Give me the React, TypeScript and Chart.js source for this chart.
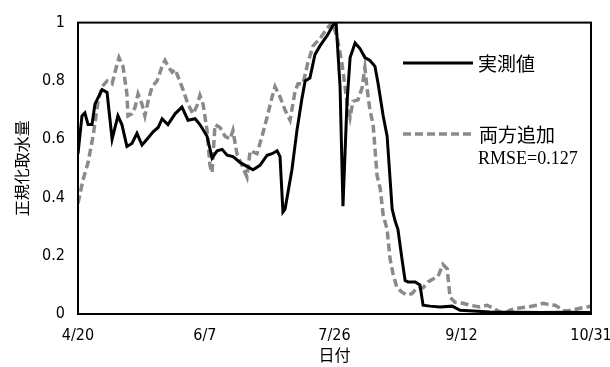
import React, { useEffect, useRef } from "react";
import { Chart, registerables } from "chart.js";

Chart.register(...registerables);

// x axis: day offset from 4/20
const tickDays = [0, 48, 97, 145, 194];
const tickLabels = ["4/20", "6/7", "7/26", "9/12", "10/31"];
const yTicks = [0, 0.2, 0.4, 0.6, 0.8, 1];

const measLabel = "実測値";
const simLabel = "両方追加";
const rmseText = "RMSE=0.127";

const measDays = [0,1.5,2.6,3.8,5.3,6.4,9.1,11,11.7,12.9,15.1,16.6,18.5,20.4,22.3,24.2,26.1,28.4,30.3,31.8,34,36.7,39.3,41.6,44.3,46.1,48.8,50.7,52.6,54.5,56.4,58.6,61.3,63.2,66.2,68.8,71.5,73.4,75.3,76.4,77.5,78.3,80.9,82.8,84.7,85.9,87.7,89.6,91.5,94.2,96.4,97.6,99.1,100.2,101.7,102.9,104.8,106.7,108.5,110.4,112.3,113.5,115.4,116.9,118.8,119.9,121,122.5,123.7,124.8,127.5,129.3,130.5,133.1,136.9,141.5,144.5,149.4,155.8,165,175,185,194];
const measVals = [0.55,0.68,0.69,0.65,0.65,0.72,0.77,0.76,0.70,0.60,0.68,0.65,0.575,0.585,0.62,0.58,0.60,0.625,0.64,0.67,0.65,0.687,0.71,0.665,0.67,0.65,0.61,0.535,0.56,0.565,0.545,0.54,0.52,0.51,0.495,0.51,0.545,0.55,0.56,0.54,0.35,0.36,0.495,0.63,0.74,0.80,0.81,0.89,0.92,0.955,0.99,1.0,0.78,0.37,0.72,0.88,0.93,0.91,0.88,0.87,0.85,0.79,0.68,0.61,0.36,0.32,0.29,0.19,0.115,0.11,0.11,0.10,0.03,0.027,0.024,0.027,0.013,0.01,0.007,0.006,0.005,0.006,0.005];

const simDays = [0,1.9,3.8,5.7,7.6,9.1,11,12.9,14,15.5,17,18.5,18.9,20.4,21.6,22.7,24.2,25.3,26.5,28,29.9,31.8,32.9,34,35.6,36.7,37.8,39.7,41.6,43.5,45,46.1,47.3,48.8,49.9,50.7,51.8,53.7,55.6,57.5,58.6,60.1,62,63.9,65.1,67.7,69.6,71.5,73.4,74.5,76.4,78.3,80.2,82.1,83.2,85.1,87,88.9,91.5,94.2,96.1,98,99.8,101.7,102.9,104,105.9,107.4,108.5,109.3,110.4,111.6,113.1,114.3,115.4,116.9,118,119.1,120.6,122.5,124.4,126.3,128.2,130.5,132.4,134.3,136.2,138,139.6,140.7,142.6,145.6,148.3,152,154.7,157,159.6,161.5,163.4,166,169.8,173.6,175.9,177.8,180.4,182.3,184.2,186.8,189.9,192.5,194];
const simVals = [0.38,0.46,0.52,0.61,0.73,0.78,0.80,0.79,0.83,0.88,0.85,0.755,0.68,0.687,0.71,0.755,0.72,0.68,0.73,0.78,0.80,0.85,0.87,0.85,0.83,0.84,0.815,0.77,0.72,0.687,0.715,0.75,0.72,0.63,0.51,0.485,0.65,0.64,0.61,0.60,0.63,0.55,0.51,0.47,0.56,0.55,0.61,0.675,0.745,0.78,0.745,0.70,0.665,0.765,0.79,0.79,0.865,0.92,0.945,0.98,1.0,0.95,0.86,0.73,0.675,0.73,0.735,0.775,0.845,0.775,0.70,0.65,0.475,0.43,0.34,0.29,0.19,0.14,0.09,0.075,0.065,0.07,0.09,0.09,0.11,0.12,0.13,0.17,0.155,0.057,0.04,0.037,0.03,0.024,0.03,0.02,0.007,0.003,0.013,0.02,0.024,0.03,0.037,0.033,0.03,0.02,0.01,0.013,0.02,0.024,0.027];

const BLACK = "#000000";
const GRAY = "#8a8a8a";
const DASH = [8, 4];
const CJK = "'Noto Sans CJK JP', sans-serif";
const NUM = "'Liberation Sans Narrow', 'DejaVu Sans Condensed', sans-serif";

const frameAndLegend = {
  id: "frameAndLegend",
  afterDatasetsDraw(chart: any) {
    const { ctx, chartArea: a } = chart;
    ctx.save();
    ctx.strokeStyle = "#000";
    ctx.lineWidth = 2;
    ctx.strokeRect(a.left, a.top, a.right - a.left, a.bottom - a.top);

    const x0 = a.left + 325;
    const x1 = x0 + 70;
    const ds = chart.data.datasets;
    ctx.beginPath();
    ctx.strokeStyle = ds[0].borderColor;
    ctx.lineWidth = ds[0].borderWidth;
    ctx.setLineDash([]);
    ctx.moveTo(x0, 63);
    ctx.lineTo(x1, 63);
    ctx.stroke();
    ctx.beginPath();
    ctx.strokeStyle = ds[1].borderColor;
    ctx.lineWidth = ds[1].borderWidth;
    ctx.setLineDash(ds[1].borderDash);
    ctx.moveTo(x0, 134);
    ctx.lineTo(x1, 134);
    ctx.stroke();
    ctx.setLineDash([]);

    ctx.fillStyle = "#000";
    ctx.textBaseline = "middle";
    ctx.textAlign = "left";
    ctx.font = `19px ${CJK}`;
    ctx.fillText(ds[0].label, x1 + 5, 64);
    ctx.fillText(ds[1].label, x1 + 6, 135);
    ctx.font = "18px 'Liberation Serif', serif";
    ctx.fillText(rmseText, x1 + 5, 159);
    ctx.restore();
  },
};

export default function App() {
  const ref = useRef<HTMLCanvasElement | null>(null);

  useEffect(() => {
    if (!ref.current) return;
    const chart = new Chart(ref.current, {
      type: "line",
      data: {
        datasets: [
          {
            label: measLabel,
            data: measDays.map((d, i) => ({ x: d, y: measVals[i] })),
            borderColor: BLACK,
            borderWidth: 3,
            pointRadius: 0,
            tension: 0,
            fill: false,
          },
          {
            label: simLabel,
            data: simDays.map((d, i) => ({ x: d, y: simVals[i] })),
            borderColor: GRAY,
            borderWidth: 3.5,
            borderDash: DASH,
            pointRadius: 0,
            tension: 0,
            fill: false,
          },
        ],
      },
      options: {
        animation: false,
        responsive: false,
        events: [],
        layout: { padding: { left: 0, top: 17, right: 19, bottom: 0 } },
        plugins: { legend: { display: false }, tooltip: { enabled: false } },
        scales: {
          x: {
            type: "linear",
            min: tickDays[0],
            max: tickDays[tickDays.length - 1],
            grid: { display: false, drawTicks: false },
            border: { display: false },
            afterBuildTicks: (s: any) => {
              s.ticks = tickDays.map((v) => ({ value: v }));
            },
            afterFit: (s: any) => {
              s.height = 53;
              s.paddingLeft = 0;
              s.paddingRight = 0;
            },
            ticks: {
              autoSkip: false,
              maxRotation: 0,
              padding: 12,
              color: "#000",
              font: { family: NUM, size: 16 },
              callback: (_v: any, i: number) => tickLabels[i],
            },
            title: {
              display: true,
              text: "日付",
              color: "#000",
              font: { family: CJK, size: 16 },
              padding: { top: 0, bottom: 2 },
            },
          },
          y: {
            min: 0,
            max: 1,
            grid: { display: false, drawTicks: false },
            border: { display: false },
            afterBuildTicks: (s: any) => {
              s.ticks = yTicks.map((v) => ({ value: v }));
            },
            afterFit: (s: any) => {
              s.width = 78;
            },
            ticks: {
              padding: 13,
              color: "#000",
              font: { family: NUM, size: 16 },
              callback: (v: any) => String(v),
            },
            title: {
              display: true,
              text: "正規化取水量",
              color: "#000",
              font: { family: CJK, size: 16 },
              padding: { top: 12, bottom: 0 },
            },
          },
        },
      },
      plugins: [frameAndLegend],
    } as any);
    return () => chart.destroy();
  }, []);

  return (
    <div style={{ position: "fixed", left: 0, top: 0, width: 610, height: 367, background: "#fff" }}>
      <canvas ref={ref} width={610} height={367} style={{ display: "block" }} />
    </div>
  );
}
